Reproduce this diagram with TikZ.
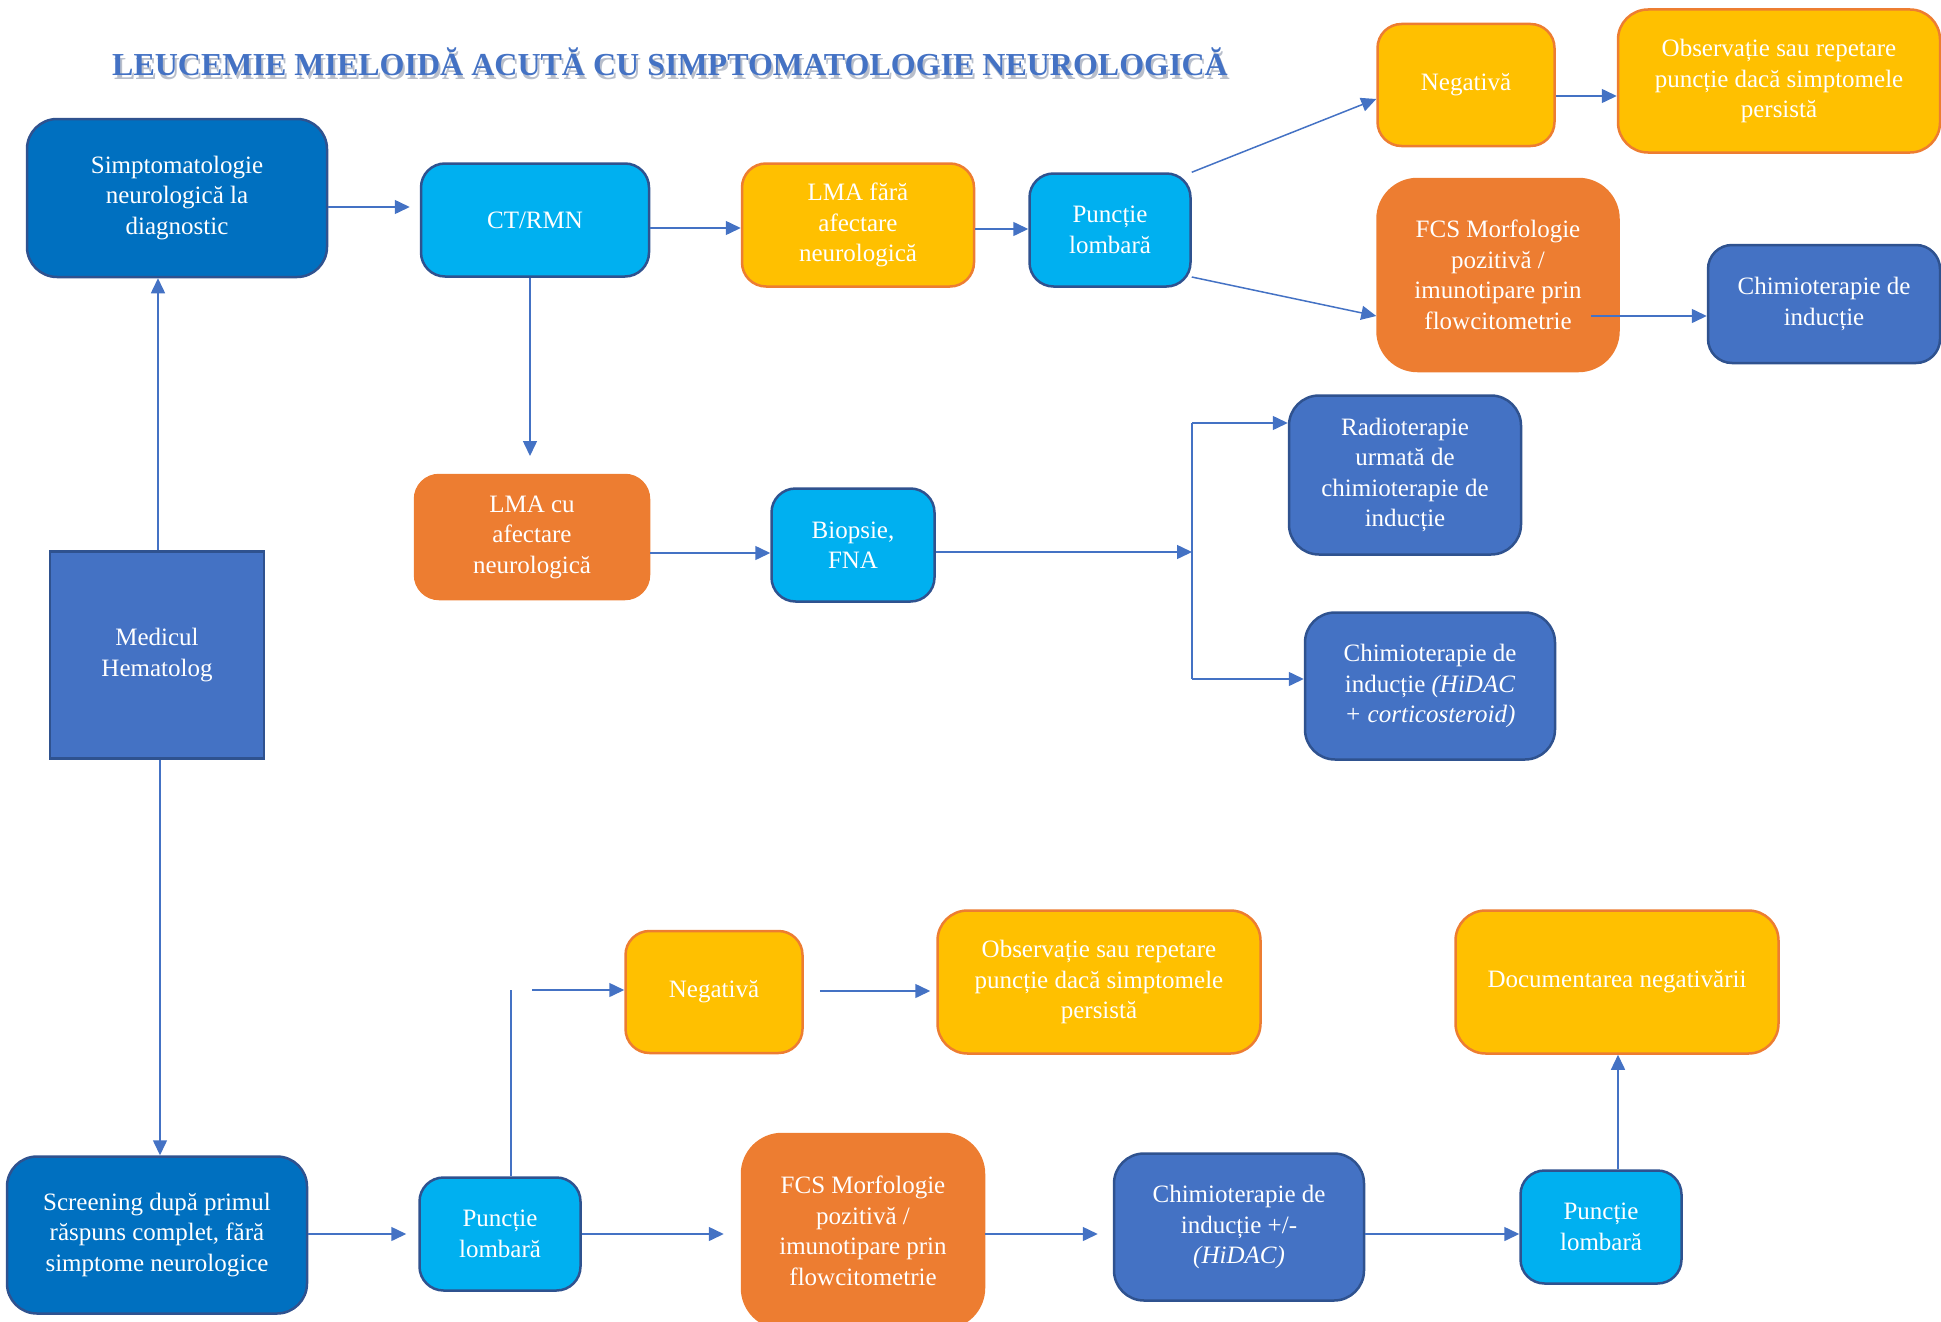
\documentclass[tikz,border=0pt]{standalone}
\usepackage{fontspec}
\setmainfont{Liberation Serif}
\usetikzlibrary{arrows.meta}

\definecolor{cDark}{HTML}{0070C0}
\definecolor{cMid}{HTML}{4472C4}
\definecolor{cLight}{HTML}{00B0F0}
\definecolor{cYellow}{HTML}{FFC000}
\definecolor{cOrange}{HTML}{ED7D31}
\definecolor{cEdge}{HTML}{2F528F}
\definecolor{cLine}{HTML}{4472C4}
\definecolor{cShadow}{HTML}{9AA3B5}

\newcommand{\boxfont}{\fontsize{25}{30.5}\selectfont}

\tikzset{
  box/.style={rounded corners=24pt, line width=2.5pt, text=white, align=center,
              inner sep=0pt, font=\boxfont},
  dkblue/.style={box, fill=cDark, draw=cEdge},
  mdblue/.style={box, fill=cMid, draw=cEdge},
  ltblue/.style={box, fill=cLight, draw=cEdge},
  yel/.style={box, fill=cYellow, draw=cOrange},
  org/.style={box, fill=cOrange, draw=cOrange},
  arr/.style={draw=cLine, line width=1.5pt, -{Triangle[length=15pt,width=14pt]}},
  link/.style={draw=cLine, line width=1.5pt},
  heading/.style={font=\fontsize{32}{36}\selectfont\bfseries, inner sep=0pt}
}

\begin{document}
\begin{tikzpicture}[x=1pt, y=-1pt]
\useasboundingbox (0,0) rectangle (1941,1322);
\clip (0,0) rectangle (1941,1322);

% heading with soft drop shadow
\node[heading, text=cShadow, opacity=0.7] (titleshadow) at (672,66)
  {LEUCEMIE MIELOIDĂ ACUTĂ CU SIMPTOMATOLOGIE NEUROLOGICĂ};
\node[heading, text=cMid] (title) at (670,62)
  {LEUCEMIE MIELOIDĂ ACUTĂ CU SIMPTOMATOLOGIE NEUROLOGICĂ};

% upper branch: symptoms at diagnosis
\node[dkblue, rounded corners=30pt, minimum width=300pt, minimum height=158pt] (simpt) at (177,198)
  {Simptomatologie\\neurologică la\\diagnostic};
\node[ltblue, minimum width=228pt, minimum height=113pt] (ct) at (535,220) {CT/RMN};
\node[yel, minimum width=232pt, minimum height=123pt] (lma1) at (858,225)
  {LMA fără\\afectare\\neurologică};
\node[ltblue, minimum width=161pt, minimum height=113pt] (pl1) at (1110,230)
  {Puncție\\lombară};
\node[yel, minimum width=177pt, minimum height=122pt] (neg1) at (1466,85) {Negativă};
\node[yel, rounded corners=30pt, minimum width=322pt, minimum height=143pt] (obs1) at (1779,81)
  {Observație sau repetare\\puncție dacă simptomele\\persistă};
\node[org, rounded corners=40pt, minimum width=241pt, minimum height=192pt] (fcs1) at (1498,275)
  {FCS Morfologie\\pozitivă /\\imunotipare prin\\flowcitometrie};
\node[mdblue, minimum width=232pt, minimum height=118pt] (chim1) at (1824,304)
  {Chimioterapie de\\inducție};

% neurological involvement
\node[org, minimum width=234pt, minimum height=124pt] (lma2) at (532,537)
  {LMA cu\\afectare\\neurologică};
\node[ltblue, minimum width=163pt, minimum height=113pt] (bio) at (853,545)
  {Biopsie,\\FNA};
\node[mdblue, rounded corners=30pt, minimum width=232pt, minimum height=159pt] (radio) at (1405,475)
  {Radioterapie\\urmată de\\chimioterapie de\\inducție};
\node[mdblue, rounded corners=30pt, minimum width=250pt, minimum height=147pt] (chimh) at (1430,686)
  {Chimioterapie de\\inducție \textit{(HiDAC}\\\textit{+ corticosteroid)}};

% hematologist
\node[mdblue, sharp corners, minimum width=214pt, minimum height=207pt] (med) at (157,655)
  {Medicul\\Hematolog};

% lower branch: screening after complete response
\node[dkblue, rounded corners=30pt, minimum width=300pt, minimum height=157pt] (scr) at (157,1235)
  {Screening după primul\\răspuns complet, fără\\simptome neurologice};
\node[ltblue, minimum width=161pt, minimum height=113pt] (pl2) at (500,1234)
  {Puncție\\lombară};
\node[yel, minimum width=177pt, minimum height=122pt] (neg2) at (714,992) {Negativă};
\node[yel, rounded corners=30pt, minimum width=323pt, minimum height=143pt] (obs2) at (1099,982)
  {Observație sau repetare\\puncție dacă simptomele\\persistă};
\node[org, rounded corners=40pt, minimum width=242pt, minimum height=194pt] (fcs2) at (863,1231)
  {FCS Morfologie\\pozitivă /\\imunotipare prin\\flowcitometrie};
\node[mdblue, rounded corners=30pt, minimum width=250pt, minimum height=147pt] (chim2) at (1239,1227)
  {Chimioterapie de\\inducție +/-\\\textit{(HiDAC)}};
\node[ltblue, minimum width=161pt, minimum height=113pt] (pl3) at (1601,1227)
  {Puncție\\lombară};
\node[yel, rounded corners=30pt, minimum width=323pt, minimum height=143pt] (doc) at (1617,982)
  {Documentarea negativării};

% free ends of connectors
\coordinate (fcsout) at (1591,316);
\coordinate (ctdown) at (530,456);
\coordinate (fork) at (1192,552);
\coordinate (forktop) at (1192,423);
\coordinate (forkbot) at (1192,679);
\coordinate (pl2up) at (511,990);
\coordinate (neg2in) at (532,990);

% connectors, upper branch
\draw[arr, shorten >=10pt] (simpt.east |- 0,207) -- (ct.west |- 0,207);
\draw[arr] (ct.east |- 0,228) -- (lma1.west |- 0,228);
\draw[arr] (lma1.east |- 0,229) -- (pl1.west |- 0,229);
\draw[arr] (pl1.north east) -- (neg1.west |- 0,99);
\draw[arr] (pl1.east |- 0,277) -- (fcs1.west |- 0,316);
\draw[arr] (fcsout) -- (chim1.west |- fcsout);
\draw[arr] (neg1.east |- 0,96) -- (obs1.west |- 0,96);
\draw[arr] (ct.south -| ctdown) -- (ctdown);

% connectors, neurological involvement
\draw[arr] (lma2.east |- 0,553) -- (bio.west |- 0,553);
\draw[arr] (bio.east |- fork) -- (fork);
\draw[link] (forktop) -- (forkbot);
\draw[arr] (forktop) -- (radio.west |- forktop);
\draw[arr] (forkbot) -- (chimh.west |- forkbot);

% connectors from the hematologist
\draw[arr] (med.north -| 158,0) -- (simpt.south -| 158,0);
\draw[arr] (med.south -| 160,0) -- (scr.north -| 160,0);

% connectors, lower branch
\draw[arr, shorten >=12pt] (scr.east |- 0,1234) -- (pl2.west |- 0,1234);
\draw[link] (pl2.north -| pl2up) -- (pl2up);
\draw[arr] (neg2in) -- (neg2.west |- neg2in);
\draw[arr, shorten <=16pt, shorten >=6pt] (neg2.east |- 0,991) -- (obs2.west |- 0,991);
\draw[arr, shorten >=17pt] (pl2.east |- 0,1234) -- (fcs2.west |- 0,1234);
\draw[arr, shorten >=15pt] (fcs2.east |- 0,1234) -- (chim2.west |- 0,1234);
\draw[arr] (chim2.east |- 0,1234) -- (pl3.west |- 0,1234);
\draw[arr] (pl3.north -| 1618,0) -- (doc.south -| 1618,0);
\end{tikzpicture}
\end{document}
